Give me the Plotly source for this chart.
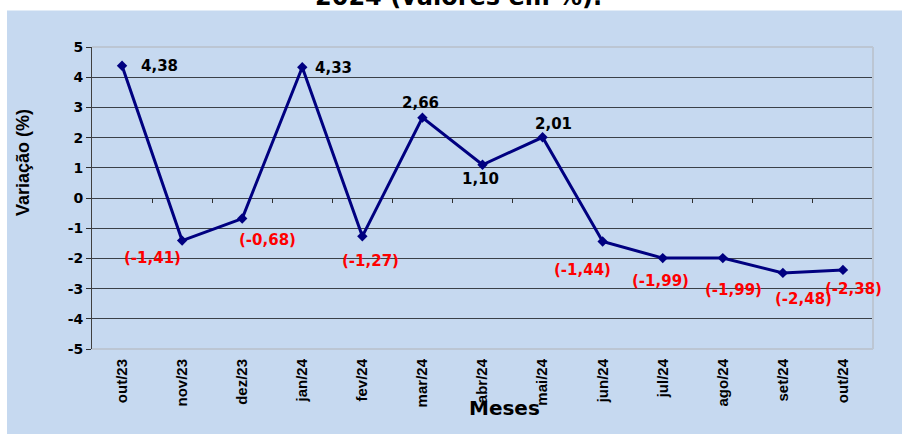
import plotly.graph_objects as go

meses = ['out/23', 'nov/23', 'dez/23', 'jan/24', 'fev/24', 'mar/24', 'abr/24',
         'mai/24', 'jun/24', 'jul/24', 'ago/24', 'set/24', 'out/24']
variacao = [4.38, -1.41, -0.68, 4.33, -1.27, 2.66, 1.10, 2.01, -1.44, -1.99, -1.99, -2.48, -2.38]
y_ticks = [5, 4, 3, 2, 1, 0, -1, -2, -3, -4, -5]

# label offsets in px (dx, dy up)
offsets = [(37, 0), (-30, -17), (25, -21), (31, -1), (8, -25), (-2, 15), (-2, -14),
           (11, 13), (-20, -29), (-2, -23), (11, -32), (21, -26), (11, -19)]

BLUE = '#C6D9F0'
W, H = 902, 434
ml, mr, mt, mb = 92, 29, 47, 85
pw, ph = W - ml - mr, H - mt - mb


def px_x(p):
    return (p - ml) / pw


def px_y(p):
    return (H - mb - p) / ph


fig = go.Figure()
fig.add_trace(go.Scatter(
    x=meses, y=variacao, mode='lines+markers',
    line=dict(color='#000080', width=3),
    marker=dict(symbol='diamond', size=8, color='#000080'),
    hoverinfo='skip'))

# tick marks along the zero line
fig.add_trace(go.Scatter(x=[0], y=[0], xaxis='x2', yaxis='y', mode='markers',
                         marker=dict(opacity=0), hoverinfo='skip'))

for i, (m, v) in enumerate(zip(meses, variacao)):
    if v < 0:
        txt = '(' + f'{v:.2f}'.replace('.', ',') + ')'
        col = '#FF0000'
    else:
        txt = f'{v:.2f}'.replace('.', ',')
        col = '#000000'
    dx, dy = offsets[i]
    fig.add_annotation(x=m, y=v, text=txt, showarrow=False,
                       xshift=dx, yshift=dy, xanchor='center', yanchor='middle',
                       font=dict(family='DejaVu Sans', size=15, color=col, weight='bold'))

fig.add_annotation(text='Variação (%)', xref='paper', yref='paper',
                   x=px_x(23), y=px_y(163), textangle=-90, showarrow=False,
                   xanchor='center', yanchor='middle',
                   font=dict(family='Liberation Sans', size=18, color='#000000', weight='bold'))
fig.add_annotation(text='Meses', xref='paper', yref='paper',
                   x=px_x(504), y=px_y(408), showarrow=False,
                   xanchor='center', yanchor='middle',
                   font=dict(family='DejaVu Sans', size=20, color='#000000', weight='bold'))
fig.add_annotation(text='2024 (valores em %).', xref='paper', yref='paper',
                   x=px_x(458), y=px_y(-3), showarrow=False,
                   xanchor='center', yanchor='middle',
                   font=dict(family='DejaVu Sans', size=24, color='#000000', weight='bold'))

fig.update_layout(
    width=W, height=H,
    margin=dict(l=ml, r=mr, t=mt, b=mb),
    paper_bgcolor='white',
    plot_bgcolor=BLUE,
    showlegend=False,
    xaxis=dict(type='category', range=[-0.5, 12.5], tickangle=-90,
               showgrid=False, showline=False, ticks='', zeroline=False,
               ticklabelstandoff=6,
               tickfont=dict(family='Liberation Sans', size=15, color='#000000', weight='bold')),
    xaxis2=dict(overlaying='x', anchor='free', position=0.5, range=[-0.5, 12.5],
                tickvals=[k + 0.5 for k in range(12)], showticklabels=False,
                ticks='outside', ticklen=4, tickcolor='#303030', showgrid=False,
                showline=False, zeroline=False),
    yaxis=dict(range=[-5, 5], tickvals=y_ticks, ticktext=[str(v) for v in y_ticks],
               ticks='outside', ticklen=5,
               tickcolor='#303030', showline=True, linecolor='#404040', linewidth=1,
               showgrid=True, gridcolor='#3A4048', gridwidth=1, zeroline=False,
               tickfont=dict(family='DejaVu Sans', size=14, color='#000000', weight='bold')),
    shapes=[
        dict(type='rect', xref='paper', yref='paper', layer='below',
             x0=px_x(7), x1=px_x(W + 2), y0=px_y(H + 2), y1=px_y(10.5),
             fillcolor=BLUE, line=dict(width=0)),
        dict(type='line', xref='paper', yref='paper', x0=0, x1=1, y0=1, y1=1,
             line=dict(color='#BCC6D3', width=2)),
        dict(type='line', xref='paper', yref='paper', x0=0, x1=1, y0=0, y1=0,
             line=dict(color='#BCC6D3', width=2)),
        dict(type='line', xref='paper', yref='paper', x0=1, x1=1, y0=0, y1=1,
             line=dict(color='#BCC6D3', width=2)),
    ],
)

fig.write_html('out.html', config={'displayModeBar': False},
               post_script="document.body.style.margin='0';")
